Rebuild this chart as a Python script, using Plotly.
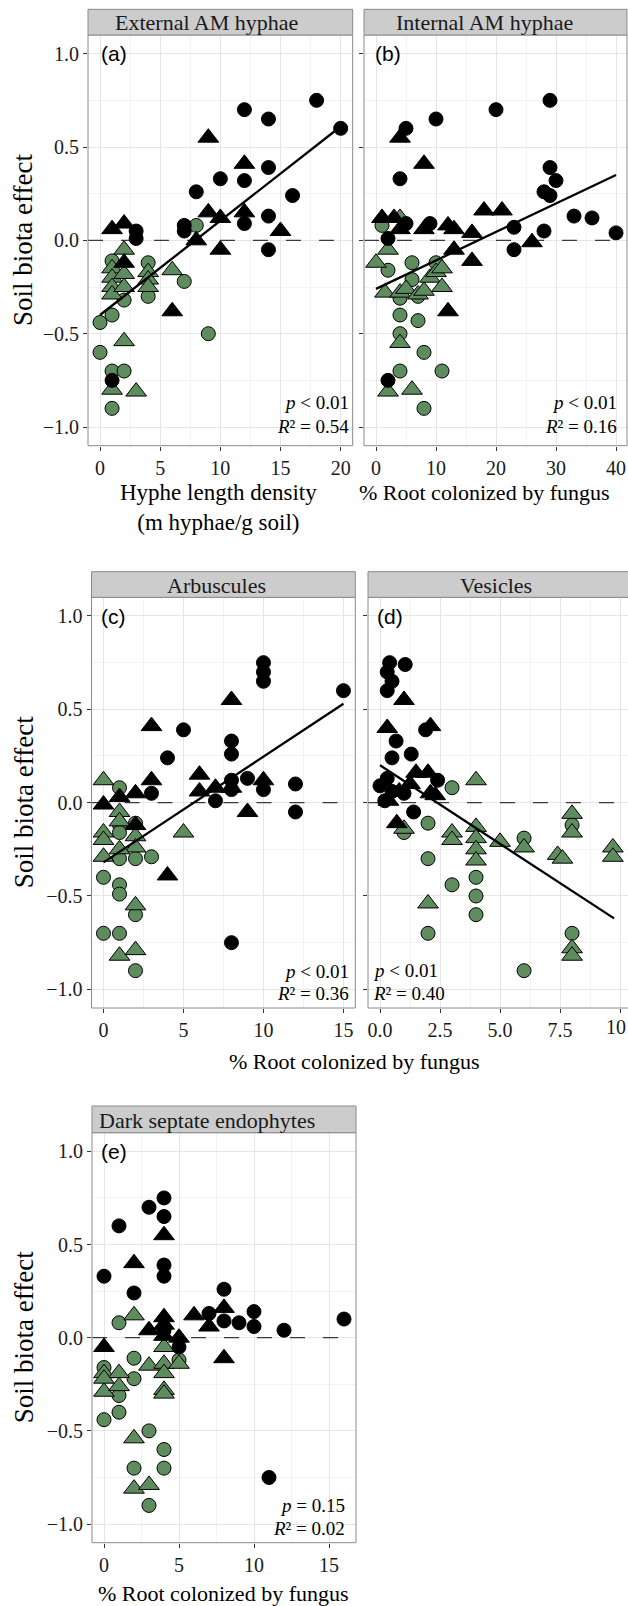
import plotly.graph_objects as go

# ------------------------------------------------------------------
# DATA
# ------------------------------------------------------------------
# (a) External AM hyphae
a_black_circles = [(18, 0.75), (12, 0.70), (14, 0.65), (20, 0.60), (14, 0.39), (10, 0.33),
                   (12, 0.32), (8, 0.26), (16, 0.24), (14, 0.13), (12, 0.09), (7, 0.08),
                   (7, 0.05), (3, 0.05), (3, 0.01), (14, -0.05), (1, -0.75)]
a_black_triangles = [(9, 0.55), (12, 0.41), (9, 0.15), (10, 0.12), (12, 0.15), (15, 0.05),
                     (8, 0.0), (10, -0.05), (1, 0.06), (2, 0.09), (2, -0.12), (6, -0.38)]
a_green_circles = [(0, -0.44), (1, -0.40), (1, -0.11), (2, -0.32), (4, -0.12), (4, -0.30),
                   (7, -0.22), (8, 0.08), (9, -0.50), (0, -0.60), (1, -0.70), (2, -0.70),
                   (1, -0.90)]
a_green_triangles = [(2, -0.05), (1, -0.15), (1, -0.20), (1, -0.25), (1, -0.29), (2, -0.18),
                     (2, -0.25), (4, -0.17), (4, -0.21), (4, -0.25), (6, -0.16), (2, -0.54),
                     (1, -0.80), (3, -0.81)]
a_fit_x = [0, 20]
a_fit_y = [-0.40, 0.61]

# (b) Internal AM hyphae
b_black_circles = [(29, 0.75), (20, 0.70), (10, 0.65), (5, 0.60), (4, 0.33), (29, 0.39),
                   (30, 0.32), (28, 0.26), (29, 0.24), (33, 0.13), (36, 0.12), (40, 0.04),
                   (23, 0.07), (28, 0.05), (23, -0.05), (5, 0.09), (9, 0.09), (2, 0.01),
                   (2, -0.75)]
b_black_triangles = [(4, 0.55), (8, 0.41), (1, 0.12), (3, 0.12), (4, 0.06), (8, 0.06),
                     (12, 0.08), (13, 0.06), (16, 0.04), (18, 0.16), (21, 0.16), (26, -0.01),
                     (13, -0.05), (16, -0.11), (12, -0.38)]
b_green_circles = [(1, 0.08), (2, -0.16), (6, -0.12), (10, -0.12), (4, -0.31), (7, -0.30),
                   (6, -0.21), (4, -0.40), (7, -0.43), (4, -0.50), (8, -0.60), (4, -0.70),
                   (11, -0.70), (8, -0.90)]
b_green_triangles = [(0, -0.12), (2, -0.05), (4, 0.12), (1.5, -0.28), (4, -0.28), (5, -0.26),
                     (7, -0.29), (8, -0.27), (9, -0.20), (10, -0.17), (11, -0.25), (11, -0.15),
                     (4, -0.55), (2, -0.81), (6, -0.80)]
b_fit_x = [0, 40]
b_fit_y = [-0.26, 0.35]

# (c) Arbuscules
c_black_circles = [(10, 0.75), (10, 0.70), (10, 0.65), (15, 0.60), (5, 0.39), (8, 0.33),
                   (8, 0.26), (4, 0.24), (9, 0.13), (8, 0.12), (8, 0.07), (10, 0.07),
                   (12, 0.10), (12, -0.05), (7, 0.01), (3, 0.05), (8, -0.75)]
c_black_triangles = [(8, 0.55), (3, 0.41), (3, 0.12), (6, 0.15), (6, 0.06), (7, 0.08),
                     (8, 0.08), (10, 0.12), (9, -0.05), (2, 0.05), (1, 0.03), (0, -0.01),
                     (2, -0.12), (4, -0.39)]
c_green_circles = [(1, 0.08), (1, -0.12), (2, -0.11), (2, -0.30), (1, -0.30), (3, -0.29),
                   (0, -0.40), (1, -0.44), (1, -0.49), (2, -0.60), (0, -0.70), (1, -0.70),
                   (2, -0.90), (1, -0.16)]
c_green_triangles = [(0, 0.12), (1, -0.05), (0, -0.16), (0, -0.20), (0, -0.29), (2, -0.18),
                     (2, -0.24), (5, -0.16), (1, -0.25), (2, -0.55), (1, -0.82), (2, -0.79),
                     (1, -0.10)]
c_fit_x = [0, 15]
c_fit_y = [-0.32, 0.53]

# (d) Vesicles
d_black_circles = [(0.4, 0.75), (1.05, 0.74), (0.3, 0.70), (0.5, 0.65), (0.3, 0.60),
                   (1.9, 0.39), (0.67, 0.33), (0.5, 0.24), (1.3, 0.26), (2.4, 0.12),
                   (0.0, 0.09), (0.3, 0.13), (0.2, 0.01), (1.4, -0.05), (0.5, 0.06),
                   (1.0, 0.05)]
d_black_triangles = [(1.0, 0.55), (0.3, 0.40), (2.1, 0.41), (1.5, 0.16), (2.0, 0.16),
                     (1.25, 0.10), (0.8, 0.06), (2.1, 0.05), (2.3, 0.04), (0.35, 0.01),
                     (0.7, -0.11)]
d_green_circles = [(3, 0.08), (2, -0.11), (1, -0.16), (2, -0.30), (3, -0.44), (4, -0.40),
                   (4, -0.50), (4, -0.60), (6, -0.19), (8, -0.12), (2, -0.70), (6, -0.90),
                   (8, -0.70)]
d_green_triangles = [(4, 0.12), (1, -0.14), (3, -0.16), (3, -0.20), (4, -0.13), (4, -0.19),
                     (4, -0.25), (4, -0.31), (5, -0.21), (6, -0.24), (7.4, -0.28),
                     (7.6, -0.30), (8, -0.06), (8, -0.16), (9.7, -0.24), (9.7, -0.29),
                     (2, -0.54), (8, -0.78), (8, -0.82)]
d_fit_x = [0, 9.75]
d_fit_y = [0.20, -0.62]

# (e) Dark septate endophytes (no fitted line)
e_black_circles = [(4, 0.75), (3, 0.70), (4, 0.65), (1, 0.60), (4, 0.39), (4, 0.33),
                   (0, 0.33), (2, 0.24), (8, 0.26), (7, 0.13), (8, 0.09), (9, 0.08),
                   (10, 0.14), (10, 0.06), (12, 0.04), (16, 0.10), (5, -0.05), (4, 0.04),
                   (11, -0.75)]
e_black_triangles = [(4, 0.55), (2, 0.40), (3, 0.04), (4, 0.11), (4, 0.07), (6, 0.12),
                     (7, 0.06), (8, 0.16), (5, 0.0), (0, -0.05), (8, -0.11), (4, 0.01)]
e_green_circles = [(1, 0.08), (2, -0.11), (2, -0.22), (0, -0.16), (1, -0.31), (1, -0.40),
                   (0, -0.44), (5, -0.12), (3, -0.50), (4, -0.60), (2, -0.70), (4, -0.70),
                   (3, -0.90)]
e_green_triangles = [(2, 0.12), (4, -0.05), (3, -0.15), (4, -0.14), (4, -0.19), (4, -0.28),
                     (4, -0.30), (0, -0.19), (0, -0.29), (1, -0.19), (1, -0.26), (2, -0.54),
                     (2, -0.81), (3, -0.79), (5, -0.14), (0, -0.22)]

strip_labels = ["External AM hyphae", "Internal AM hyphae", "Arbuscules", "Vesicles",
                "Dark septate endophytes"]
panel_tags = ["(a)", "(b)", "(c)", "(d)", "(e)"]
stat_p = ["<i>p</i> &lt; 0.01", "<i>p</i> &lt; 0.01", "<i>p</i> &lt; 0.01",
          "<i>p</i> &lt; 0.01", "<i>p</i> = 0.15"]
stat_r2 = ["0.54", "0.16", "0.36", "0.40", "0.02"]
y_ticks = [-1.0, -0.5, 0.0, 0.5, 1.0]
zero_level = 0.0
d_edge_label = "10"   # last Vesicles tick label, cut by the figure's right edge

# ------------------------------------------------------------------
# LAYOUT / STYLE
# ------------------------------------------------------------------
W, H = 628, 1606
SERIF = "Liberation Serif"
SANS = "Liberation Sans"
GREEN = "#5E8C5F"
BORDER = "#8A8A8A"
GRID = "#E6E6E6"
GRID_MINOR = "#F3F3F3"
TICK_FONT = dict(family=SERIF, size=20, color="#1a1a1a")


def fx(p):
    return p / W


def fy(p):
    return 1 - p / H


# key, x domain px, y domain px (top, bottom), x range, major, minor, y labels, x fmt
panels = [
    ("a", (88.0, 352.7), (35.0, 445.7), (-1, 21), 5, 2.5, True, "d"),
    ("b", (364.0, 627.0), (35.0, 445.7), (-2, 41.83), 10, 5, False, "d"),
    ("c", (91.5, 355.3), (597.3, 1008.0), (-0.75, 15.74), 5, 2.5, True, "d"),
    ("d", (368.0, 628.0), (597.3, 1008.0), (-0.5, 10.33), 2.5, 1.25, False, ".1f"),
    ("e", (92.0, 356.0), (1132.7, 1542.7), (-0.8, 16.8), 5, 2.5, True, "d"),
]
panel_data = {
    "a": (a_green_circles, a_green_triangles, a_black_circles, a_black_triangles, a_fit_x, a_fit_y),
    "b": (b_green_circles, b_green_triangles, b_black_circles, b_black_triangles, b_fit_x, b_fit_y),
    "c": (c_green_circles, c_green_triangles, c_black_circles, c_black_triangles, c_fit_x, c_fit_y),
    "d": (d_green_circles, d_green_triangles, d_black_circles, d_black_triangles, d_fit_x, d_fit_y),
    "e": (e_green_circles, e_green_triangles, e_black_circles, e_black_triangles, None, None),
}
strip_rects = [(88.0, 352.7, 9.3, 35.0), (364.0, 627.0, 9.3, 35.0),
               (91.5, 355.3, 571.7, 597.3), (368.0, 640.0, 571.7, 597.3),
               (92.0, 356.0, 1106.0, 1132.7)]
strip_text_pos = [(206.7, 23, "center"), (484.0, 23, "center"), (216.0, 585.5, "center"),
                  (496.0, 585.5, "center"), (96.7, 1120.0, "left")]
tag_pos = [(99.0, 53.3), (372.5, 53.3), (98.5, 616.7), (375.5, 616.7), (99.0, 1151.7)]
stat_pos = [(350.5, "right", 402.7, 426.5), (619.0, "right", 402.7, 426.5),
            (351.0, "right", 971.0, 993.5), (371.5, "left", 970.0, 993.0),
            (347.0, "right", 1505.5, 1528.0)]

fig = go.Figure()
shapes = []
annotations = []
layout_axes = {}

for i, (key, xd, yd, xr, dt, mdt, ylab, xfmt) in enumerate(panels):
    n = "" if i == 0 else str(i + 1)
    xname, yname = "x" + n, "y" + n
    gc, gt, bc, bt, fitx, fity = panel_data[key]

    # dashed zero reference line across the whole panel (drawn beneath the points)
    fig.add_trace(go.Scatter(x=[xr[0], xr[1]], y=[zero_level, zero_level], mode="lines",
                             xaxis=xname, yaxis=yname, showlegend=False, hoverinfo="skip",
                             line=dict(color="#3a3a3a", width=1.2, dash="15px,18px")))

    def add_pts(pts, symbol, size, fill):
        fig.add_trace(go.Scatter(
            x=[p[0] for p in pts], y=[p[1] for p in pts], mode="markers",
            xaxis=xname, yaxis=yname, showlegend=False, hoverinfo="skip",
            marker=dict(symbol=symbol, size=size, color=fill,
                        line=dict(color="black", width=1))))

    add_pts(gc, "circle", 14, GREEN)
    add_pts(gt, "triangle-up", 18, GREEN)
    add_pts(bc, "circle", 14, "black")
    add_pts(bt, "triangle-up", 18, "black")
    if fitx is not None:
        fig.add_trace(go.Scatter(x=fitx, y=fity, mode="lines", xaxis=xname, yaxis=yname,
                                 showlegend=False, hoverinfo="skip",
                                 line=dict(color="black", width=2.3)))

    layout_axes["xaxis" + n] = dict(
        domain=[fx(xd[0]), fx(xd[1])], range=list(xr), anchor=yname,
        tick0=0, dtick=dt, tickformat=xfmt, ticks="outside", ticklen=4, tickwidth=1,
        tickcolor="#333333", showgrid=True, gridcolor=GRID, gridwidth=1,
        minor=dict(dtick=mdt, tick0=0, showgrid=True, gridcolor=GRID_MINOR, gridwidth=1),
        zeroline=False, showline=False, fixedrange=True,
        tickfont=TICK_FONT)
    layout_axes["yaxis" + n] = dict(
        domain=[fy(yd[1]), fy(yd[0])], range=[-1.1, 1.1], anchor=xname,
        tickvals=y_ticks, tickformat=".1f", ticks="outside", ticklen=4, tickwidth=1,
        tickcolor="#333333", showticklabels=ylab, showgrid=True, gridcolor=GRID, gridwidth=1,
        minor=dict(dtick=0.25, tick0=0, showgrid=True, gridcolor=GRID_MINOR, gridwidth=1),
        zeroline=False, showline=False, fixedrange=True,
        tickfont=TICK_FONT)

    # panel border
    shapes.append(dict(type="rect", xref="paper", yref="paper",
                       x0=fx(xd[0]), x1=fx(xd[1] if key != "d" else 640),
                       y0=fy(yd[1]), y1=fy(yd[0]),
                       line=dict(color=BORDER, width=1), fillcolor="rgba(0,0,0,0)",
                       layer="above"))
    # strip
    sx0, sx1, sy0, sy1 = strip_rects[i]
    shapes.append(dict(type="rect", xref="paper", yref="paper", x0=fx(sx0), x1=fx(sx1),
                       y0=fy(sy1), y1=fy(sy0), line=dict(color=BORDER, width=1),
                       fillcolor="#CCCCCC", layer="above"))
    tx, ty, tanc = strip_text_pos[i]
    annotations.append(dict(text=strip_labels[i], xref="paper", yref="paper", x=fx(tx), y=fy(ty),
                            xanchor=tanc, yanchor="middle", showarrow=False,
                            font=dict(family=SERIF, size=22, color="#1a1a1a")))
    gx, gy = tag_pos[i]
    annotations.append(dict(text=panel_tags[i], xref="paper", yref="paper", x=fx(gx), y=fy(gy),
                            xanchor="left", yanchor="middle", showarrow=False,
                            font=dict(family=SANS, size=21, color="black")))
    sx, sanc, syp, syr = stat_pos[i]
    annotations.append(dict(text=stat_p[i], xref="paper", yref="paper", x=fx(sx), y=fy(syp),
                            xanchor=sanc, yanchor="middle", showarrow=False,
                            font=dict(family=SERIF, size=19, color="black")))
    annotations.append(dict(text="<i>R</i>\u00b2 = " + stat_r2[i], xref="paper", yref="paper",
                            x=fx(sx), y=fy(syr), xanchor=sanc, yanchor="middle",
                            showarrow=False, font=dict(family=SERIF, size=19, color="black")))

# the last Vesicles tick label, which the reference shows clipped at the right edge
annotations.append(dict(text=d_edge_label, xref="paper", yref="paper", x=1.0, y=fy(1026.5),
                        xanchor="right", yanchor="middle", showarrow=False,
                        font=TICK_FONT))

for cy in (240.4, 802.7, 1337.7):
    annotations.append(dict(text="Soil biota effect", xref="paper", yref="paper",
                            x=fx(23.5), y=fy(cy), xanchor="center", yanchor="middle",
                            textangle=-90, showarrow=False,
                            font=dict(family=SERIF, size=27, color="black")))
x_titles = [("Hyphe length density<br>(m hyphae/g soil)", 218.0, 507.5, 23),
            ("% Root colonized by fungus", 484.0, 492.0, 22),
            ("% Root colonized by fungus", 354.0, 1061.7, 22),
            ("% Root colonized by fungus", 223.5, 1593.3, 22)]
for t, cx, cy, fs in x_titles:
    annotations.append(dict(text=t, xref="paper", yref="paper", x=fx(cx), y=fy(cy),
                            xanchor="center", yanchor="middle", showarrow=False,
                            font=dict(family=SERIF, size=fs, color="black")))

fig.update_layout(
    width=W, height=H, margin=dict(l=0, r=0, t=0, b=0),
    paper_bgcolor="white", plot_bgcolor="white",
    shapes=shapes, annotations=annotations, showlegend=False,
    **layout_axes)

fig.write_html("out.html")
